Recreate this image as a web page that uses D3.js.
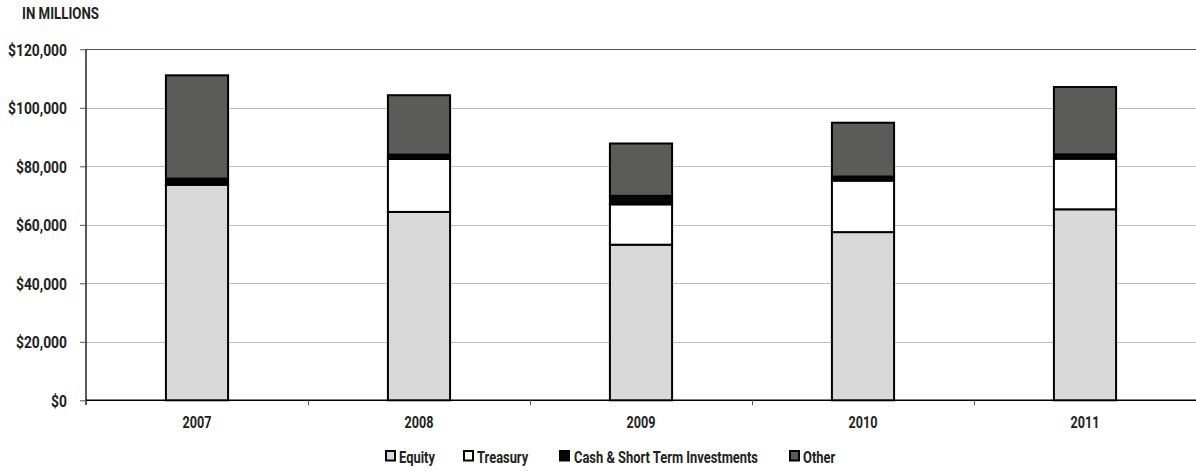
<!DOCTYPE html>
<html><head><meta charset="utf-8">
<script src="https://cdn.jsdelivr.net/npm/d3@7/dist/d3.min.js"></script>
<style>
body{margin:0;background:#fff;}
text{font-family:Roboto,'Liberation Sans',sans-serif;font-weight:bold;fill:#222;}
</style></head>
<body><svg id="c" width="1196" height="471"></svg>
<script>
const years = ["2007","2008","2009","2010","2011"];
const seriesNames = ["Equity","Treasury","Cash & Short Term Investments","Other"];
const equity   = [73700, 64400, 53200, 57500, 65300];
const treasury = [0, 18100, 13800, 17600, 17300];
const cash     = [2100, 1500, 2900, 1400, 1500];
const other    = [35300, 20300, 17900, 18400, 23000];
const yTicks = [0,20000,40000,60000,80000,100000,120000];
const colors = ["#d9d9d9","#ffffff","#050505","#5b5b59"];

const svg = d3.select("#c");
const W = 1196, left = 86;
const x = d3.scaleBand().domain(years).range([left, W]).paddingInner(0.72).paddingOuter(0.36);
const xb = d3.scaleBand().domain(years).range([left, W]);
const y = d3.scaleLinear().domain([0,120000]).range([400.3, 49.3]);

// squeeze a group of labels horizontally so the widest reference label reaches a given width
function condense(sel, refWidth){
  let maxW = 0;
  sel.each(function(){ maxW = Math.max(maxW, this.getComputedTextLength()); });
  const f = refWidth / maxW;
  sel.each(function(){
    const w = this.getComputedTextLength();
    this.setAttribute("textLength", w*f);
    this.setAttribute("lengthAdjust","spacingAndGlyphs");
  });
}

// gridlines
svg.append("g").selectAll("line").data(yTicks.filter(d=>d>0)).join("line")
  .attr("x1", left).attr("x2", W).attr("y1", d=>Math.round(y(d))+0.5).attr("y2", d=>Math.round(y(d))+0.5)
  .attr("stroke", d=> d===120000 ? "#555" : "#bdbdbd").attr("stroke-width", 1.2);

// y axis
const yAxis = svg.append("g").attr("transform",`translate(${left},0)`)
  .call(d3.axisLeft(y).tickValues(yTicks).tickSize(6).tickPadding(13).tickFormat(d=>"$"+d3.format(",")(d)));
yAxis.select(".domain").attr("d", `M0,${y(120000)}V405`).attr("stroke","#000").attr("stroke-width",1.3);
yAxis.selectAll(".tick line").attr("stroke","#555");
yAxis.selectAll(".tick text").style("font-size","16.5px").style("font-family","Roboto").style("font-weight","bold")
  .attr("fill","#222").attr("dy","0.36em");
condense(yAxis.selectAll(".tick text"), 59);

// x axis
const xAxis = svg.append("g").attr("transform",`translate(0,${y(0)})`)
  .call(d3.axisBottom(xb).tickSize(0).tickPadding(14));
xAxis.select(".domain").attr("d", `M${left},0H${W}`).attr("stroke","#000").attr("stroke-width",1.5);
xAxis.selectAll(".tick text").style("font-size","17px").style("font-family","Roboto").style("font-weight","bold")
  .attr("fill","#222").attr("y",28).attr("dy",0);
condense(xAxis.selectAll(".tick text"), 29);
svg.append("g").selectAll("line").data(years.slice(1)).join("line")
  .attr("x1", d=>Math.round(xb(d))+0.5).attr("x2", d=>Math.round(xb(d))+0.5)
  .attr("y1", y(0)).attr("y2", y(0)+5).attr("stroke","#555");

// stacked bars
const table = years.map((yr,i)=>({year:yr, Equity:equity[i], Treasury:treasury[i], "Cash & Short Term Investments":cash[i], Other:other[i]}));
const stack = d3.stack().keys(seriesNames)(table);
svg.append("g").selectAll("g").data(stack).join("g")
  .attr("fill",(d,i)=>colors[i])
  .selectAll("rect").data(d=>d.filter(p=>p[1]-p[0]>0)).join("rect")
  .attr("x", d=>x(d.data.year)).attr("width", x.bandwidth())
  .attr("y", d=>y(d[1])).attr("height", d=>y(d[0])-y(d[1]))
  .attr("stroke","#000").attr("stroke-width",2);

// title
const t = svg.append("text").attr("x",22).attr("y",19).text("IN MILLIONS")
  .style("font-size","16.5px").attr("fill","#222");
condense(t, 77);

// legend
const legX = [386, 464, 560, 790];
const leg = svg.append("g").selectAll("g").data(seriesNames).join("g")
  .attr("transform",(d,i)=>`translate(${legX[i]},451)`);
leg.append("rect").attr("x",0).attr("y",0).attr("width",9).attr("height",9.5)
  .attr("fill",(d,i)=>colors[i]).attr("stroke","#000").attr("stroke-width",2);
const lt = leg.append("text").attr("x",(d,i)=> [13,13,14,13][i]).attr("y",11.5).text(d=>d)
  .style("font-size","16px").attr("fill","#222");
condense(lt, 184);
</script></body></html>
